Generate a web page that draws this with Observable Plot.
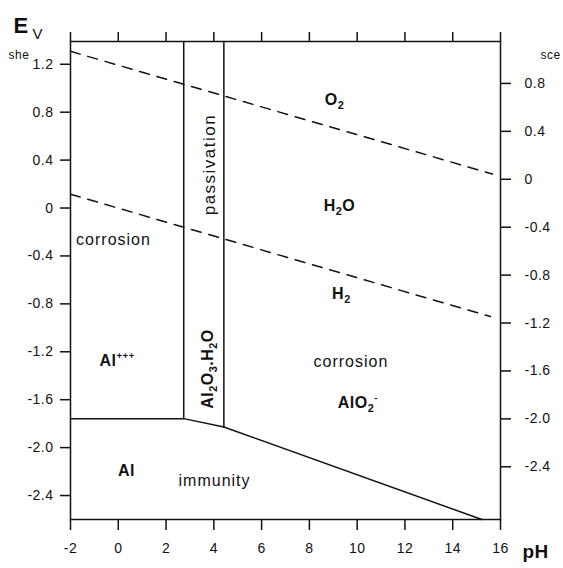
<!DOCTYPE html>
<html>
<head>
<meta charset="utf-8">
<script src="https://cdn.jsdelivr.net/npm/d3@7"></script>
<script src="https://cdn.jsdelivr.net/npm/@observablehq/plot@0.6"></script>
<style>
  html, body { margin: 0; padding: 0; background: #fff; }
  #chart svg text { letter-spacing: 0.5px; }
  #chart .reg text { letter-spacing: 1px; }
  #chart .pass text { letter-spacing: 1.5px; }
</style>
</head>
<body>
<div id="chart"></div>
<script>
// ---- axis ticks and labels ----
const phTicks = [-2, 0, 2, 4, 6, 8, 10, 12, 14, 16];
const phLabels = ["-2", "0", "2", "4", "6", "8", "10", "12", "14", "16"];
const sheTicks = [1.2, 0.8, 0.4, 0, -0.4, -0.8, -1.2, -1.6, -2.0, -2.4];
const sheLabels = ["1.2", "0.8", "0.4", "0", "-0.4", "-0.8", "-1.2", "-1.6", "-2.0", "-2.4"];
const sceTicks = [0.8, 0.4, 0, -0.4, -0.8, -1.2, -1.6, -2.0, -2.4];
const sceLabels = ["0.8", "0.4", "0", "-0.4", "-0.8", "-1.2", "-1.6", "-2.0", "-2.4"];
const sceOffset = 0.24; // E(she) = E(sce) + 0.24 V

// ---- water stability lines (dashed) ----
const o2Line = [{ph: -2, e: 1.308}, {ph: 15.66, e: 0.284}];
const h2Line = [{ph: -2, e: 0.115}, {ph: 15.58, e: -0.906}];

// ---- aluminium domain boundaries ----
const passLeft = [{ph: 2.74, e: 1.39}, {ph: 2.74, e: -1.758}];
const passRight = [{ph: 4.42, e: 1.39}, {ph: 4.42, e: -1.828}];
const immunityLine = [{ph: -2, e: -1.758}, {ph: 2.74, e: -1.758}, {ph: 4.42, e: -1.828}, {ph: 15.22, e: -2.6}];

// ---- region labels ----
const boldNames = ["O_{2}", "H_{2}O", "H_{2}", "Al^{+++}", "AlO_{2}^{-}", "Al"];
const boldPH = [9.05, 9.26, 9.34, -0.05, 10.03, 0.34];
const boldE = [0.904, 0.021, -0.714, -1.272, -1.624, -2.196];

const regNames = ["corrosion", "corrosion", "immunity"];
const regPH = [-0.2, 9.74, 4.03];
const regE = [-0.263, -1.286, -2.275];

const rotRegNames = ["passivation"];
const rotRegPH = [3.82];
const rotRegE = [0.363];

const rotBoldNames = ["Al_{2}O_{3}.H_{2}O"];
const rotBoldPH = [3.735];
const rotBoldE = [-1.344];

const zip = (n, x, y) => n.map((t, i) => ({t, ph: x[i], e: y[i]}));
const labelFor = (ticks, labels) => d => {
  const i = ticks.findIndex(t => Math.abs(t - d) < 1e-6);
  return i < 0 ? "" : labels[i];
};
const sceAsShe = sceTicks.map(v => v + sceOffset);

const chart = Plot.plot({
  width: 563,
  height: 568,
  marginLeft: 70,
  marginRight: 63,
  marginTop: 41,
  marginBottom: 49,
  x: {domain: [-2, 16]},
  y: {domain: [-2.6, 1.39]},
  style: {fontFamily: "'Liberation Sans', Arial, sans-serif", fontSize: "14px", color: "#111", background: "#fff"},
  marks: [
    Plot.axisY({anchor: "left", ticks: sheTicks, tickFormat: labelFor(sheTicks, sheLabels), tickSize: 10, tickPadding: 7, strokeWidth: 1.5, label: null, fontSize: 14}),
    Plot.axisY({anchor: "right", ticks: sceAsShe, tickFormat: labelFor(sceAsShe, sceLabels), tickSize: 10, tickPadding: 14, strokeWidth: 1.5, label: null, fontSize: 14}),
    Plot.axisX({anchor: "bottom", ticks: phTicks, tickFormat: labelFor(phTicks, phLabels), tickSize: 11, tickPadding: 13, strokeWidth: 1.5, label: null, fontSize: 14}),
    Plot.axisX({anchor: "top", ticks: phTicks, tickFormat: () => "", tickSize: 10, strokeWidth: 1.5, label: null}),
    Plot.frame({strokeWidth: 1.5}),
    Plot.line(o2Line, {x: "ph", y: "e", strokeWidth: 1.5, strokeDasharray: "10,8"}),
    Plot.line(h2Line, {x: "ph", y: "e", strokeWidth: 1.5, strokeDasharray: "10,8"}),
    Plot.line(passLeft, {x: "ph", y: "e", strokeWidth: 1.5}),
    Plot.line(passRight, {x: "ph", y: "e", strokeWidth: 1.5}),
    Plot.line(immunityLine, {x: "ph", y: "e", strokeWidth: 1.5}),
    Plot.text(zip(boldNames, boldPH, boldE), {x: "ph", y: "e", text: "t", fontSize: 16, fontWeight: "bold", className: "rich"}),
    Plot.text(zip(regNames, regPH, regE), {x: "ph", y: "e", text: "t", fontSize: 16, className: "reg"}),
    Plot.text(zip(rotRegNames, rotRegPH, rotRegE), {x: "ph", y: "e", text: "t", fontSize: 17, rotate: -90, className: "pass"}),
    Plot.text(zip(rotBoldNames, rotBoldPH, rotBoldE), {x: "ph", y: "e", text: "t", fontSize: 16, fontWeight: "bold", rotate: -90, className: "rich"}),
    // axis titles
    Plot.text(["E"], {frameAnchor: "top-left", text: d => d, textAnchor: "start", dx: -57, dy: -24, fontSize: 22, fontWeight: "bold"}),
    Plot.text(["V"], {frameAnchor: "top-left", text: d => d, textAnchor: "start", dx: -38, dy: -12.8, fontSize: 15}),
    Plot.text(["she"], {frameAnchor: "top-left", text: d => d, textAnchor: "start", dx: -62, dy: 9.2, fontSize: 12}),
    Plot.text(["sce"], {frameAnchor: "top-right", text: d => d, textAnchor: "start", dx: 40, dy: 9.2, fontSize: 12}),
    Plot.text(["pH"], {frameAnchor: "bottom-right", text: d => d, textAnchor: "start", dx: 22, dy: 38.9, fontSize: 19, fontWeight: "bold"})
  ]
});

document.getElementById("chart").appendChild(chart);

// turn _{..} / ^{..} markup into sub/superscript tspans
const SVGNS = "http://www.w3.org/2000/svg";
chart.querySelectorAll("g.rich text").forEach(t => {
  const src = t.textContent;
  if (!/[_^]\{/.test(src)) return;
  const fs = parseFloat(getComputedStyle(t).fontSize) || 16;
  const parts = src.split(/([_^]\{[^}]*\})/).filter(s => s.length);
  t.textContent = "";
  let shift = 0;
  for (const p of parts) {
    let target = 0, size = null, txt = p;
    if (p[0] === "_") { target = 0.28 * fs; size = 0.68 * fs; txt = p.slice(2, -1); }
    else if (p[0] === "^") { target = -0.42 * fs; size = 0.6 * fs; txt = p.slice(2, -1); }
    const ts = document.createElementNS(SVGNS, "tspan");
    if (target !== shift) ts.setAttribute("dy", (target - shift).toFixed(2));
    if (size) ts.setAttribute("font-size", size.toFixed(2));
    ts.textContent = txt;
    t.appendChild(ts);
    shift = target;
  }
});
</script>
</body>
</html>
